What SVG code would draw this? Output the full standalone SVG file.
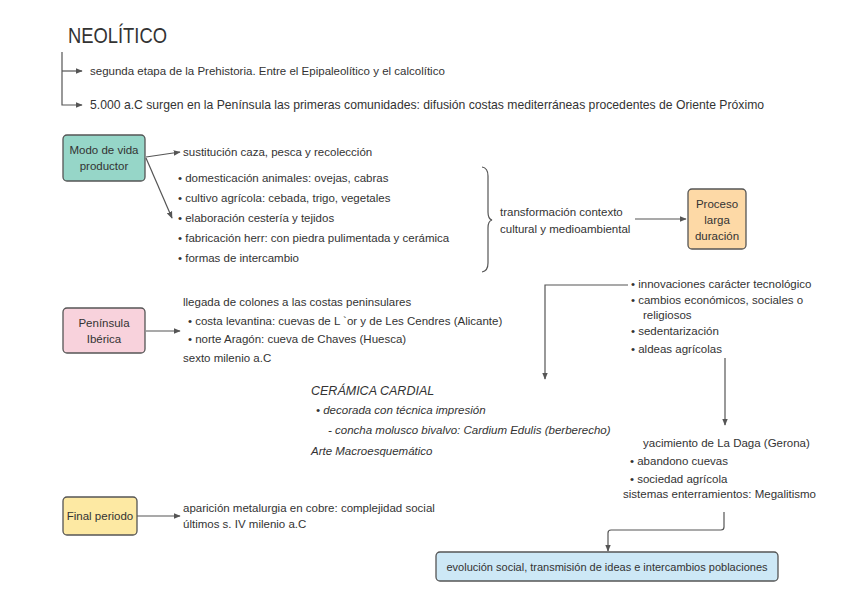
<svg xmlns="http://www.w3.org/2000/svg" width="848" height="599" viewBox="0 0 848 599">
<defs>
<marker id="ah" viewBox="0 0 10 10" refX="9" refY="5" markerWidth="7" markerHeight="7" orient="auto" markerUnits="userSpaceOnUse">
<path d="M0,1 L10,5 L0,9 Z" fill="#555"/>
</marker>
<style>
text{font-family:"Liberation Sans","DejaVu Sans",sans-serif;fill:#333;font-size:11.5px}
.t{font-size:22px;fill:#333}
.box{stroke:#555;stroke-width:1.3}
.c{fill:none;stroke:#555;stroke-width:1.2}
.m{text-anchor:middle}
.i{font-style:italic}
</style>
</defs>
<rect width="848" height="599" fill="#fff"/>
<g id="title"><text class="t" x="68" y="43" textLength="99" lengthAdjust="spacingAndGlyphs">NEOLÍTICO</text></g>
<g id="intro">
<text x="90" y="75">segunda etapa de la Prehistoria. Entre el Epipaleolítico y el calcolítico</text>
<text x="90" y="109" style="font-size:12.2px">5.000 a.C surgen en la Península las primeras comunidades: difusión costas mediterráneas procedentes de Oriente Próximo</text>
</g>
<g id="connectors">
<path class="c" d="M62,52 V105 H82" marker-end="url(#ah)"/>
<path class="c" d="M62,71 H82" marker-end="url(#ah)"/>
<path class="c" d="M146,157 L180,152" marker-end="url(#ah)"/>
<path class="c" d="M146,158 L172,218" marker-end="url(#ah)"/>
<path class="c" d="M635,219 H686" marker-end="url(#ah)"/>
<path class="c" d="M628,285 H545 V379" marker-end="url(#ah)"/>
<path class="c" d="M725,358 V425" marker-end="url(#ah)"/>
<path class="c" d="M146,331 H180" marker-end="url(#ah)"/>
<path class="c" d="M137,516 H180" marker-end="url(#ah)"/>
<path class="c" d="M724,512 V527 Q724,530 721,530 H611 Q608,530 608,533 V551" marker-end="url(#ah)"/>
<path class="c" d="M482,167 Q488,168 488,176 V212 Q488,219 492,220 Q488,221 488,228 V263 Q488,271 482,272"/>
</g>
<g id="modo">
<rect class="box" x="63" y="135" width="82" height="46" rx="4" fill="#96d6c8"/>
<text class="m" x="104" y="154">Modo de vida</text>
<text class="m" x="104" y="170">productor</text>
</g>
<g id="modo-text">
<text x="183" y="156">sustitución caza, pesca y recolección</text>
<text x="178" y="182">•  domesticación animales: ovejas, cabras</text>
<text x="178" y="202">•  cultivo agrícola: cebada, trigo, vegetales</text>
<text x="178" y="222">•  elaboración cestería y tejidos</text>
<text x="178" y="242">•  fabricación herr: con piedra pulimentada y cerámica</text>
<text x="178" y="262">•  formas de intercambio</text>
</g>
<g id="transformacion">
<text x="500" y="216">transformación contexto</text>
<text x="500" y="233">cultural y medioambiental</text>
</g>
<g id="proceso">
<rect class="box" x="688" y="189" width="58" height="60" rx="4" fill="#fdd9a6"/>
<text class="m" x="717" y="208">Proceso</text>
<text class="m" x="717" y="224">larga</text>
<text class="m" x="717" y="240">duración</text>
</g>
<g id="innovaciones">
<text x="631" y="288">•  innovaciones carácter tecnológico</text>
<text x="631" y="304">•  cambios económicos, sociales o</text>
<text x="643" y="319">religiosos</text>
<text x="631" y="335">•  sedentarización</text>
<text x="631" y="353">•  aldeas agrícolas</text>
</g>
<g id="peninsula">
<rect class="box" x="63" y="308" width="82" height="45" rx="4" fill="#f8d2dc"/>
<text class="m" x="104" y="327">Península</text>
<text class="m" x="104" y="343">Ibérica</text>
</g>
<g id="peninsula-text">
<text x="183" y="306">llegada de colones a las costas peninsulares</text>
<text x="188" y="325">•  costa levantina: cuevas de L `or y de Les Cendres (Alicante)</text>
<text x="188" y="343">•  norte Aragón: cueva de Chaves (Huesca)</text>
<text x="183" y="362">sexto milenio a.C</text>
</g>
<g id="ceramica">
<text class="i" x="311" y="395" style="font-size:12.5px">CERÁMICA CARDIAL</text>
<text class="i" x="316" y="414">•  decorada con técnica impresión</text>
<text class="i" x="328" y="434">- concha molusco bivalvo: Cardium Edulis (berberecho)</text>
<text class="i" x="311" y="455">Arte Macroesquemático</text>
</g>
<g id="yacimiento">
<text x="643" y="447">yacimiento de La Daga (Gerona)</text>
<text x="630" y="465">•  abandono cuevas</text>
<text x="630" y="483">•  sociedad agrícola</text>
<text x="623" y="498">sistemas enterramientos: Megalitismo</text>
</g>
<g id="final">
<rect class="box" x="63" y="497" width="74" height="38" rx="4" fill="#fde9a3"/>
<text class="m" x="100" y="520">Final periodo</text>
</g>
<g id="final-text">
<text x="183" y="512">aparición metalurgia en cobre: complejidad social</text>
<text x="183" y="528">últimos s. IV milenio a.C</text>
</g>
<g id="evolucion">
<rect class="box" x="436" y="552" width="342" height="29" rx="4" fill="#cde8f6"/>
<text class="m" x="607" y="571" style="font-size:11px">evolución social, transmisión de ideas e intercambios poblaciones</text>
</g>
</svg>
